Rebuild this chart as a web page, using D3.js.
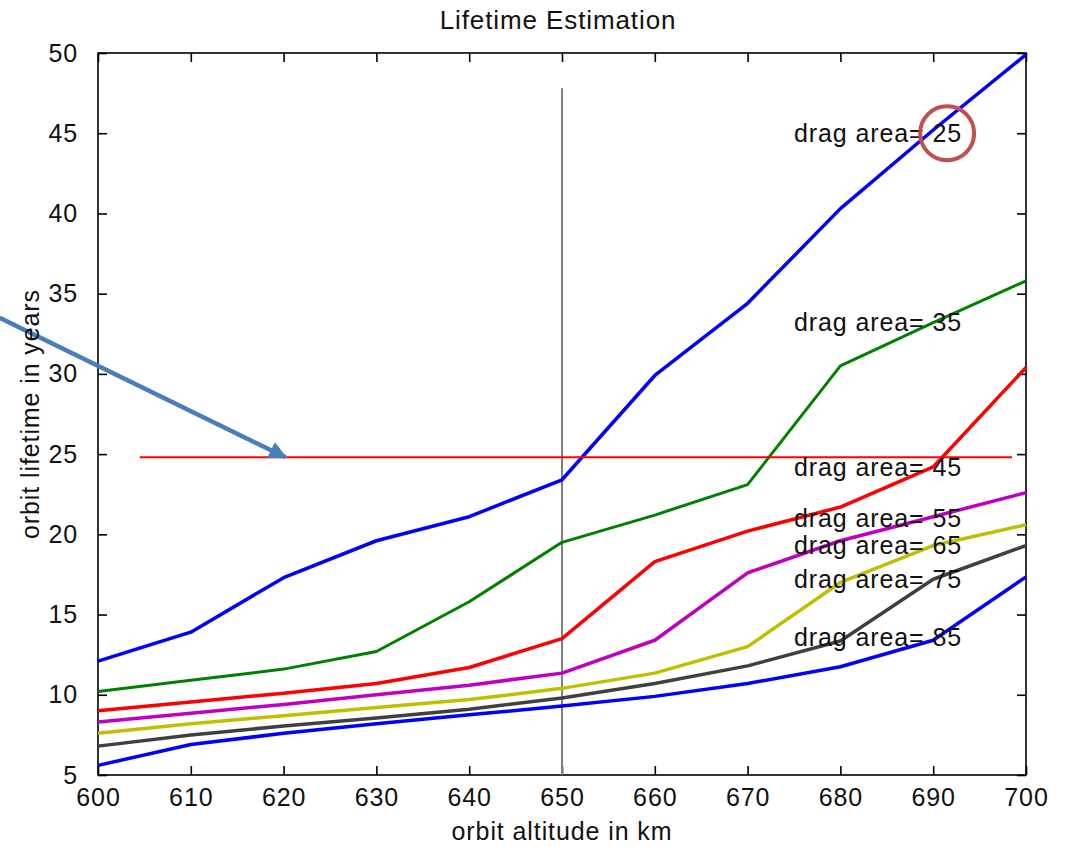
<!DOCTYPE html>
<html>
<head>
<meta charset="utf-8">
<script src="https://cdn.jsdelivr.net/npm/d3@7"></script>
<style>
  body { margin: 0; background: #fff; }
  svg { display: block; }
  text { font-family: 'Liberation Sans', Arial, sans-serif; fill: #111; letter-spacing: 0.9px; }
  .axis path, .axis line { stroke: #000; }
</style>
</head>
<body>
<div class="lifetime"><svg></svg></div>
<script>
// orbit altitude (km)
const altitude = [600, 610, 620, 630, 640, 650, 660, 670, 680, 690, 700]
const dragAreas = [25, 35, 45, 55, 65, 75, 85]

// orbit lifetime in years, one series per drag area
const life25 = [12.1, 13.9, 17.3, 19.6, 21.1, 23.4, 29.9, 34.4, 40.3, 45.2, 49.9]
const life35 = [10.2, 10.9, 11.6, 12.7, 15.8, 19.5, 21.2, 23.1, 30.5, 33.2, 35.8]
const life45 = [9.0, 9.55, 10.1, 10.7, 11.7, 13.5, 18.3, 20.2, 21.7, 24.2, 30.4]
const life55 = [8.3, 8.85, 9.4, 10.0, 10.6, 11.35, 13.4, 17.6, 19.6, 21.1, 22.6]
const life65 = [7.6, 8.2, 8.7, 9.2, 9.7, 10.4, 11.35, 13.0, 17.0, 19.3, 20.6]
const life75 = [6.8, 7.5, 8.05, 8.55, 9.1, 9.8, 10.7, 11.8, 13.35, 17.2, 19.3]
const life85 = [5.6, 6.9, 7.6, 8.2, 8.75, 9.3, 9.9, 10.7, 11.75, 13.4, 17.35]
const series = [life25, life35, life45, life55, life65, life75, life85]
const colors = ['#0000ff', '#008000', '#ff0000', '#bf00bf', '#bfbf00', '#404040', '#0000ff']

// label anchors in data units
const labelX = 675
const labelY = [45.0, 33.2, 24.2, 21.0, 19.3, 17.2, 13.6]

const xTicks = [600, 610, 620, 630, 640, 650, 660, 670, 680, 690, 700]
const yTicks = [5, 10, 15, 20, 25, 30, 35, 40, 45, 50]

// reference lines
const limitYears = 24.8
const limitRange = [604.5, 698.5]
const markAltitude = 650
const markTop = 47.8

// overlay annotations (data units)
const arrowFrom = [589.4, 33.5]
const arrowTo = [620.2, 24.8]
const circleAt = [691.5, 45.0]

function lifetime () {
  const W = 1066
  const H = 847
  const margin = { top: 53, right: 40, bottom: 72, left: 98 }
  const width = W - margin.left - margin.right
  const height = H - margin.top - margin.bottom

  const svg = d3.select('.lifetime svg').attr('width', W).attr('height', H)
  const g = svg.append('g').attr('transform', `translate(${margin.left},${margin.top})`)

  const x = d3.scaleLinear().domain([600, 700]).range([0, width])
  const y = d3.scaleLinear().domain([5, 50]).range([height, 0])

  const fs = 25

  // box
  g.append('rect')
    .attr('width', width)
    .attr('height', height)
    .attr('fill', 'none')
    .attr('stroke', '#000')
    .attr('stroke-width', 1.6)

  const axB = g.append('g').attr('class', 'axis')
    .attr('transform', `translate(0,${height})`)
    .call(d3.axisBottom(x).tickValues(xTicks).tickSizeInner(-9).tickSizeOuter(0).tickPadding(22))
  const axT = g.append('g').attr('class', 'axis')
    .call(d3.axisTop(x).tickValues(xTicks).tickSizeInner(-9).tickSizeOuter(0).tickFormat(''))
  const axL = g.append('g').attr('class', 'axis')
    .call(d3.axisLeft(y).tickValues(yTicks).tickSizeInner(-9).tickSizeOuter(0).tickPadding(20))
  const axR = g.append('g').attr('class', 'axis')
    .attr('transform', `translate(${width},0)`)
    .call(d3.axisRight(y).tickValues(yTicks).tickSizeInner(-9).tickSizeOuter(0).tickFormat(''))

  ;[axB, axT, axL, axR].forEach(a => {
    a.select('.domain').remove()
    a.selectAll('line').attr('stroke-width', 1.6)
    a.selectAll('text').attr('font-size', fs).attr('font-family', "'Liberation Sans', Arial, sans-serif")
  })
  axB.selectAll('text').attr('dy', '0.35em')

  // vertical marker at 650 km
  g.append('line')
    .attr('x1', x(markAltitude)).attr('x2', x(markAltitude))
    .attr('y1', y(markTop)).attr('y2', y(5))
    .attr('stroke', '#808080')
    .attr('stroke-width', 2)

  const line = d3.line()
    .x((d, i) => x(altitude[i]))
    .y(d => y(d))

  g.append('g').selectAll('path')
    .data(series)
    .enter()
    .append('path')
    .attr('d', line)
    .attr('fill', 'none')
    .attr('stroke', (d, i) => colors[i])
    .attr('stroke-width', (d, i) => (i === 1 ? 3 : 3.5))
    .attr('stroke-linejoin', 'round')

  // 25 year limit
  g.append('line')
    .attr('x1', x(limitRange[0])).attr('x2', x(limitRange[1]))
    .attr('y1', y(limitYears)).attr('y2', y(limitYears))
    .attr('stroke', '#ff0000')
    .attr('stroke-width', 2)

  g.append('g').selectAll('text')
    .data(dragAreas)
    .enter()
    .append('text')
    .attr('x', x(labelX))
    .attr('y', (d, i) => y(labelY[i]))
    .attr('dy', '0.35em')
    .attr('font-size', fs)
    .text(d => 'drag area= ' + d)

  // title and axis labels
  svg.append('text')
    .attr('x', margin.left + width / 2 - 4)
    .attr('y', 29)
    .attr('text-anchor', 'middle')
    .attr('font-size', fs + 1)
    .text('Lifetime Estimation')

  svg.append('text')
    .attr('x', margin.left + width / 2)
    .attr('y', 840)
    .attr('text-anchor', 'middle')
    .attr('font-size', fs)
    .text('orbit altitude in km')

  svg.append('text')
    .attr('transform', `translate(39,${margin.top + height / 2}) rotate(-90)`)
    .attr('text-anchor', 'middle')
    .attr('font-size', fs)
    .text('orbit lifetime in years')

  // overlay: arrow and circle
  svg.append('defs').append('marker')
    .attr('id', 'head')
    .attr('viewBox', '0 0 10 10')
    .attr('refX', 9)
    .attr('refY', 5)
    .attr('markerWidth', 4)
    .attr('markerHeight', 4)
    .attr('orient', 'auto')
    .append('path')
    .attr('d', 'M0,0L10,5L0,10z')
    .attr('fill', '#4a7ebb')

  g.append('line')
    .attr('x1', x(arrowFrom[0])).attr('y1', y(arrowFrom[1]))
    .attr('x2', x(arrowTo[0])).attr('y2', y(arrowTo[1]))
    .attr('stroke', '#4a7ebb')
    .attr('stroke-width', 4.5)
    .attr('marker-end', 'url(#head)')

  g.append('circle')
    .attr('cx', x(circleAt[0]))
    .attr('cy', y(circleAt[1]))
    .attr('r', 27)
    .attr('fill', 'none')
    .attr('stroke', '#c0504d')
    .attr('stroke-width', 4)
}

lifetime()
</script>
</body>
</html>
